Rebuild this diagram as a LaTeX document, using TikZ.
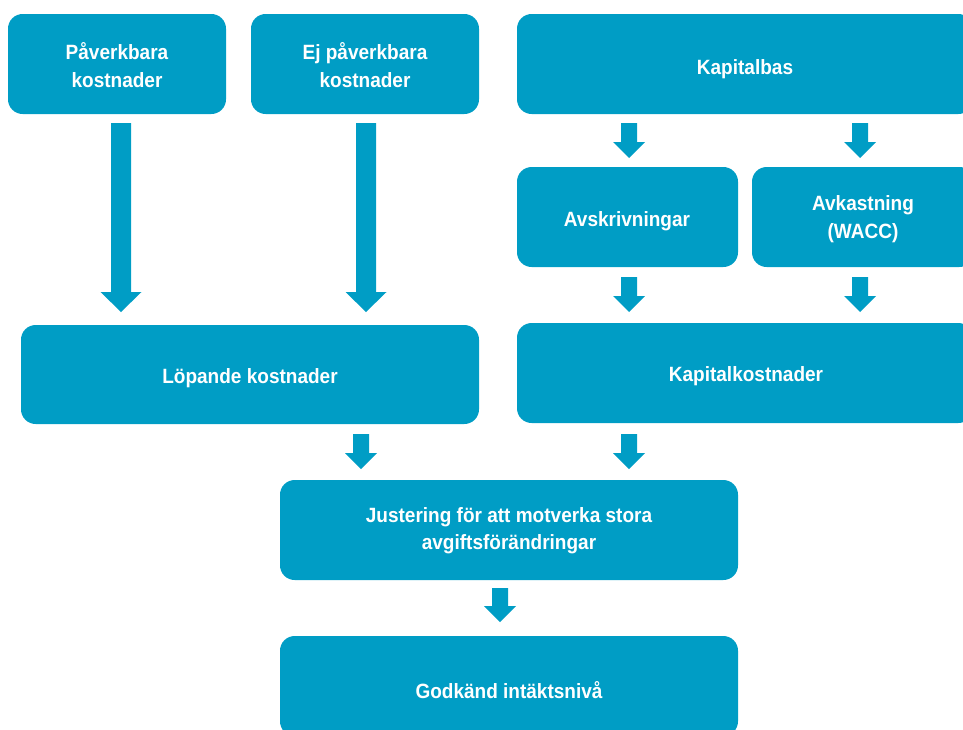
\documentclass[tikz,border=0pt]{standalone}
\usepackage{fontspec}
\setmainfont{Liberation Sans}[FakeStretch=0.92]
\usetikzlibrary{fit}
\definecolor{boxblue}{RGB}{0,157,197}
\tikzset{
  box/.style={fill=boxblue, draw=none, rounded corners=11pt, inner sep=0pt},
  txt/.style={text=white, align=center, inner sep=0pt,
    font=\bfseries\fontsize{15.5}{20.5}\selectfont},
  arrowfill/.style={fill=boxblue}
}
% block arrow: centre x, top y, start of head y, tip y, half shaft width, half head width
\newcommand\blockarrow[6]{%
  \fill[arrowfill] (#1-#5,#2) -- (#1+#5,#2) -- (#1+#5,#3) -- (#1+#6,#3)
    -- (#1,#4) -- (#1-#6,#3) -- (#1-#5,#3) -- cycle;}
\begin{document}
\begin{tikzpicture}[x=0.75pt,y=-0.75pt]
  \useasboundingbox (0,0) rectangle (963,729);
  \clip (0,0) rectangle (963,729);

  % corner points of the boxes
  \coordinate (pa1) at (8,14);    \coordinate (pa2) at (226,114);
  \coordinate (ej1) at (251,14);  \coordinate (ej2) at (479,114);
  \coordinate (kb1) at (517,14);  \coordinate (kb2) at (973,114);
  \coordinate (av1) at (517,167); \coordinate (av2) at (738,267);
  \coordinate (ak1) at (752,167); \coordinate (ak2) at (974,267);
  \coordinate (lo1) at (21,325);  \coordinate (lo2) at (479,424);
  \coordinate (kk1) at (517,323); \coordinate (kk2) at (973,423);
  \coordinate (ju1) at (280,480); \coordinate (ju2) at (738,580);
  \coordinate (go1) at (280,636); \coordinate (go2) at (738,736);

  \node[box, fit=(pa1)(pa2)] (pav) {};
  \node[box, fit=(ej1)(ej2)] (ejp) {};
  \node[box, fit=(kb1)(kb2)] (kap) {};
  \node[box, fit=(av1)(av2)] (avs) {};
  \node[box, fit=(ak1)(ak2)] (avk) {};
  \node[box, fit=(lo1)(lo2)] (lop) {};
  \node[box, fit=(kk1)(kk2)] (kko) {};
  \node[box, fit=(ju1)(ju2)] (jus) {};
  \node[box, fit=(go1)(go2)] (god) {};

  \node[txt] (pavt) at (117,65)  {Påverkbara\\kostnader};
  \node[txt] (ejpt) at (365,65)  {Ej påverkbara\\kostnader};
  \node[txt] (kapt) at (745,69)  {Kapitalbas};
  \node[txt] (avst) at (627,221) {Avskrivningar};
  \node[txt] (avkt) at (863,219) {Avkastning\\(WACC)};
  \node[txt] (lopt) at (250,378) {Löpande kostnader};
  \node[txt] (kkot) at (746,376) {Kapitalkostnader};
  \node[txt] (just) at (509,531) {Justering för att motverka stora\\avgiftsförändringar};
  \node[txt] (godt) at (509,690) {Godkänd intäktsnivå};

  % long arrows into the running costs
  \blockarrow{121}{123}{292}{312}{10}{20.5}
  \blockarrow{366}{123}{292}{312}{10}{20.5}
  % short arrows
  \blockarrow{629}{123}{142}{158}{8}{16}
  \blockarrow{860}{123}{142}{158}{8}{16}
  \blockarrow{629}{277}{296}{312}{8}{16}
  \blockarrow{860}{277}{296}{312}{8}{16}
  \blockarrow{361}{434}{453}{469}{8}{16}
  \blockarrow{629}{434}{453}{469}{8}{16}
  \blockarrow{500}{588}{606}{622}{8}{16}
\end{tikzpicture}
\end{document}
